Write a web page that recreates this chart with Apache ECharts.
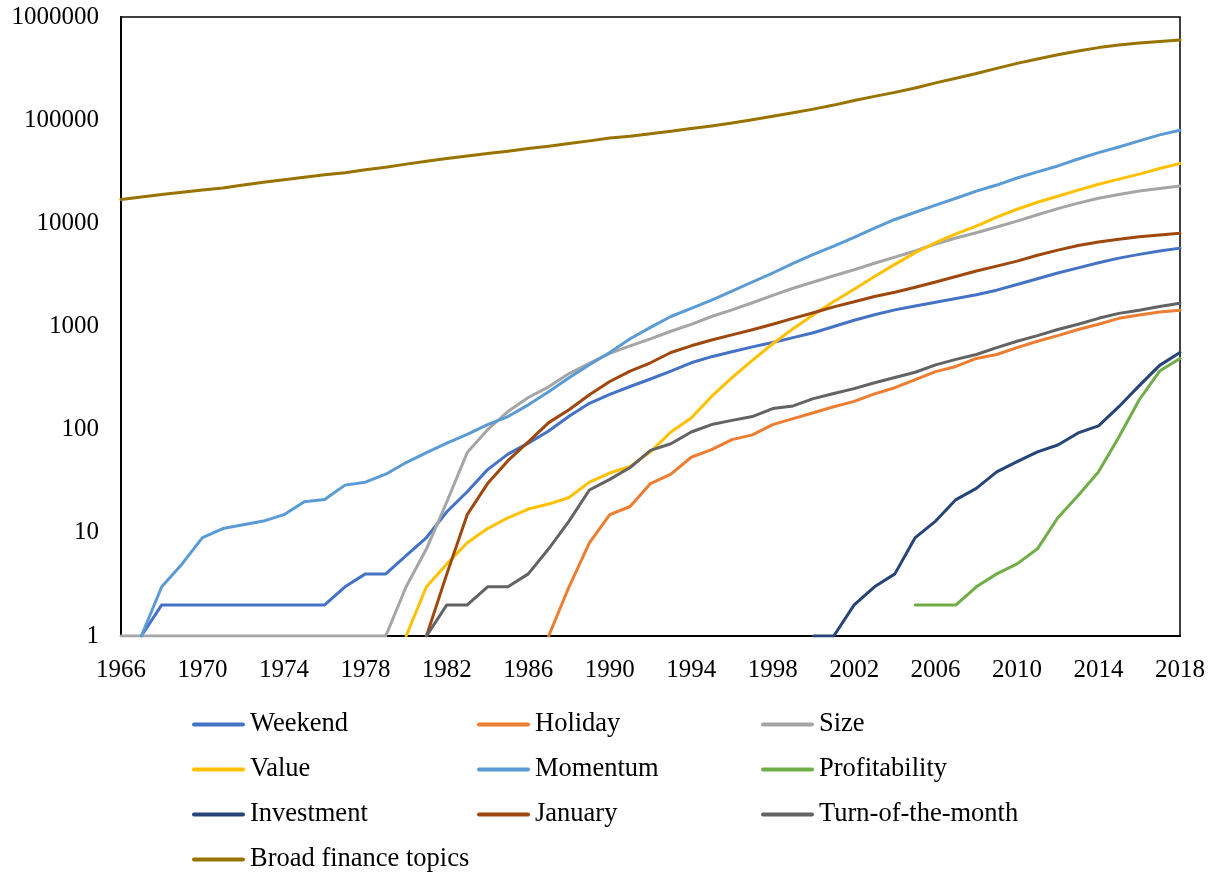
<!DOCTYPE html>
<html>
<head>
<meta charset="utf-8">
<style>
  html, body { margin: 0; padding: 0; background: #fff; }
  #chart { width: 1217px; height: 875px; }
</style>
<script src="https://cdn.jsdelivr.net/npm/echarts@6/dist/echarts.min.js"></script>
</head>
<body>
<div id="chart"></div>
<script>
  // years on the x axis
  var firstYear = 1966
  var lastYear = 2018

  // each series: first year it appears, then one value per year up to 2018
  var weekendStart = 1967
  var weekend = [1, 2, 2, 2, 2, 2, 2, 2, 2, 2,
    3, 4, 4, 6, 9, 16, 25, 41, 58, 74,
    97, 135, 180, 220, 262, 310, 370, 445, 510, 570,
    635, 700, 780, 870, 1000, 1150, 1300, 1450, 1580, 1720,
    1870, 2030, 2250, 2550, 2900, 3300, 3700, 4150, 4600, 5000,
    5400, 5750]

  var holidayStart = 1987
  var holiday = [1, 3, 8, 15, 18, 30, 37, 54, 64, 80,
    89, 112, 128, 146, 167, 188, 222, 255, 305, 365,
    410, 490, 535, 625, 720, 815, 935, 1050, 1200, 1290,
    1380, 1440]

  var sizeStart = 1966
  var size = [1, 1, 1, 1, 1, 1, 1, 1, 1, 1,
    1, 1, 1, 1, 3, 7, 20, 60, 100, 150,
    205, 260, 350, 440, 550, 650, 760, 900, 1050, 1250,
    1450, 1700, 2000, 2350, 2700, 3100, 3550, 4100, 4700, 5400,
    6300, 7200, 8100, 9200, 10500, 12100, 13900, 15700, 17500, 19000,
    20600, 21800, 23000]

  var valueStart = 1980
  var value = [1, 3, 5, 8, 11, 14, 17, 19, 22, 31,
    38, 44, 61, 95, 130, 210, 320, 470, 680, 950,
    1300, 1750, 2300, 3050, 4000, 5200, 6500, 7900, 9400, 11500,
    13700, 16000, 18300, 21000, 23900, 26800, 30000, 34000, 38000]

  var momentumStart = 1967
  var momentum = [1, 3, 5, 9, 11, 12, 13, 15, 20, 21,
    29, 31, 37, 48, 60, 74, 90, 112, 134, 174,
    233, 318, 425, 560, 760, 980, 1250, 1500, 1800, 2200,
    2700, 3300, 4100, 5000, 6000, 7300, 9000, 10900, 12800, 15000,
    17500, 20500, 23500, 27500, 31500, 36000, 42000, 48500, 55000, 63000,
    72000, 80000]

  var profitabilityStart = 2005
  var profitability = [2, 2, 2, 3, 4, 5, 7, 14, 23, 39,
    85, 195, 370, 490]

  var investmentStart = 2000
  var investment = [1, 1, 2, 3, 4, 9, 13, 21, 27, 39,
    49, 61, 71, 93, 109, 167, 267, 420, 560]

  var januaryStart = 1981
  var january = [1, 4, 15, 30, 50, 76, 117, 156, 218, 293,
    370, 445, 560, 650, 740, 830, 930, 1050, 1200, 1360,
    1550, 1740, 1950, 2150, 2400, 2700, 3050, 3450, 3850, 4300,
    4900, 5500, 6100, 6600, 7000, 7400, 7700, 8000]

  var turnStart = 1981
  var turnOfMonth = [1, 2, 2, 3, 3, 4, 7, 13, 26, 33,
    43, 63, 73, 95, 112, 123, 134, 160, 170, 200,
    224, 250, 285, 320, 360, 425, 480, 535, 625, 720,
    815, 935, 1050, 1200, 1340, 1440, 1560, 1680]

  var broadStart = 1966
  var broad = [17000, 18000, 19000, 20000, 21000, 22000, 23500, 25000, 26500, 28000,
    29500, 31000, 33000, 35000, 37500, 40000, 42500, 45000, 47500, 50000,
    53000, 56000, 59500, 63000, 67000, 70000, 74000, 78000, 83000, 88000,
    94000, 101000, 109000, 118000, 128000, 140000, 155000, 170000, 186000, 205000,
    230000, 255000, 283000, 318000, 355000, 392000, 430000, 468000, 505000, 535000,
    560000, 580000, 600000]

  var names = ['Weekend', 'Holiday', 'Size', 'Value', 'Momentum', 'Profitability',
    'Investment', 'January', 'Turn-of-the-month', 'Broad finance topics']
  var colors = ['#4472C4', '#ED7D31', '#A5A5A5', '#FFC000', '#5B9BD5', '#70AD47',
    '#264478', '#9E480E', '#636363', '#997300']
  var starts = [weekendStart, holidayStart, sizeStart, valueStart, momentumStart,
    profitabilityStart, investmentStart, januaryStart, turnStart, broadStart]
  var values = [weekend, holiday, size, value, momentum, profitability,
    investment, january, turnOfMonth, broad]

  var years = []
  for (var y = firstYear; y <= lastYear; y++) years.push(String(y))

  // pad each series with nulls before its first year
  function pad (start, arr) {
    var out = []
    for (var i = firstYear; i < start; i++) out.push(null)
    return out.concat(arr)
  }

  var series = names.map(function (n, i) {
    return {
      name: n,
      type: 'line',
      data: pad(starts[i], values[i]),
      symbol: 'none',
      smooth: false,
      color: colors[i],
      lineStyle: { width: 3, color: colors[i], cap: 'round', join: 'round' },
      emphasis: { disabled: true }
    }
  })

  var font = 'Liberation Serif, Times New Roman, serif'
  // plain thick line as legend key
  var lineIcon = 'path://M2,0 L51,0 A2,2 0 0 1 51,4 L2,4 A2,2 0 0 1 2,0 Z'
  var legendBase = {
    orient: 'vertical',
    top: 711,
    height: 190,
    padding: 0,
    icon: lineIcon,
    itemWidth: 53,
    itemHeight: 26,
    itemGap: 18,
    selectedMode: false,
    textStyle: { fontFamily: font, fontSize: 26.5, color: '#000' }
  }

  var myChart = echarts.init(document.getElementById('chart'))
  var option = {
    backgroundColor: '#fff',
    animation: false,
    grid: {
      left: 121,
      right: 37,
      top: 17,
      bottom: 239,
      show: true,
      borderColor: '#000',
      borderWidth: 1.5
    },
    legend: [
      Object.assign({}, legendBase, { left: 192, data: ['Weekend', 'Value', 'Investment', 'Broad finance topics'] }),
      Object.assign({}, legendBase, { left: 477, data: ['Holiday', 'Momentum', 'January'] }),
      Object.assign({}, legendBase, { left: 761, data: ['Size', 'Profitability', 'Turn-of-the-month'] })
    ],
    xAxis: {
      type: 'category',
      data: years,
      boundaryGap: false,
      axisLine: { lineStyle: { color: '#000', width: 2 } },
      axisTick: { show: false },
      axisLabel: {
        interval: 3,
        margin: 22,
        fontFamily: font,
        fontSize: 25,
        color: '#000'
      },
      splitLine: { show: false }
    },
    yAxis: {
      type: 'log',
      logBase: 10,
      min: 1,
      max: 1000000,
      axisLine: { show: true, lineStyle: { color: '#000', width: 2 } },
      axisTick: { show: false },
      axisLabel: {
        margin: 22,
        fontFamily: font,
        fontSize: 25,
        color: '#000',
        formatter: function (v) { return String(Math.round(v)) }
      },
      splitLine: { show: false }
    },
    series: series
  }
  myChart.setOption(option)
</script>
</body>
</html>
